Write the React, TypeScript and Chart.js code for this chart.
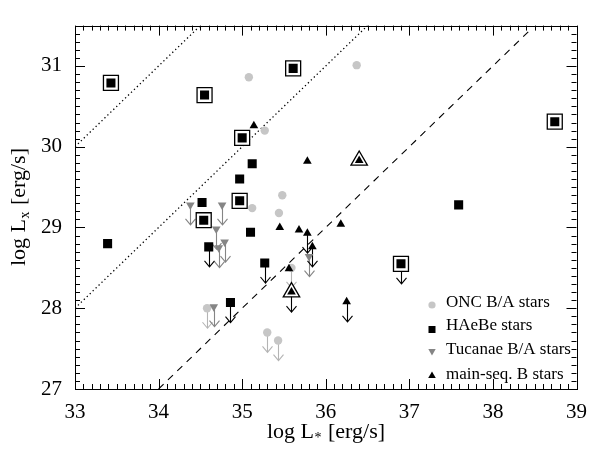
import React, { useEffect, useRef } from 'react';
import { Chart, registerables } from 'chart.js';

Chart.register(...registerables);

// ---- axes ----
const xTicks = [33, 34, 35, 36, 37, 38, 39];
const yTicks = [27, 28, 29, 30, 31];
const xMin = 33, xMax = 39;
const yMin = 27, yMax = 31.5;

// ---- ONC B/A stars ----
const oncX = [35.08, 35.27, 36.37, 35.12, 35.48, 35.44, 35.59, 34.58, 35.30, 35.43];
const oncY = [30.86, 30.20, 31.01, 29.24, 29.40, 29.18, 28.50, 28.00, 27.70, 27.60];
const oncLimit = [0, 0, 0, 0, 0, 0, 1, 1, 1, 1];

// ---- HAeBe stars ----
const haeX = [33.43, 34.55, 35.61, 35.00, 34.97, 34.54, 38.74, 36.90, 35.12, 34.97, 34.52, 35.10, 33.39, 34.60, 35.27, 34.86, 37.59];
const haeY = [30.79, 30.64, 30.97, 30.11, 29.33, 29.09, 30.31, 28.55, 29.79, 29.60, 29.31, 28.94, 28.80, 28.76, 28.56, 28.07, 29.28];
const haeBoxed = [1, 1, 1, 1, 1, 1, 1, 1, 0, 0, 0, 0, 0, 0, 0, 0, 0];
const haeLimit = [0, 0, 0, 0, 0, 0, 0, 1, 0, 0, 0, 0, 0, 1, 1, 1, 0];

// ---- Tucanae B/A stars ----
const tucX = [34.38, 34.76, 34.69, 34.79, 34.72, 34.66, 35.80];
const tucY = [29.28, 29.28, 28.98, 28.82, 28.75, 28.02, 28.64];
const tucLimit = [1, 1, 1, 1, 1, 1, 1];

// ---- main-seq. B stars ----
const msX = [35.14, 35.45, 35.78, 36.40, 35.68, 35.78, 36.18, 35.84, 35.56, 35.59, 36.25];
const msY = [30.26, 29.00, 29.82, 29.83, 28.97, 28.93, 29.04, 28.76, 28.49, 28.20, 28.08];
const msBoxed = [0, 0, 0, 1, 0, 0, 0, 0, 0, 1, 0];
const msLimit = [0, 0, 0, 0, 0, 1, 0, 1, 0, 1, 1];

// ---- reference lines log Lx = log L* + c ----
const line1X = [33, 34.5];
const line1Y = [30, 31.5];
const line2X = [33, 36.5];
const line2Y = [28, 31.5];
const line3X = [34, 38.45];
const line3Y = [27, 31.45];

const legendLabels = ['ONC B/A stars', 'HAeBe stars', 'Tucanae B/A stars', 'main-seq. B stars'];

const FONT = '"Liberation Serif", "Times New Roman", serif';
const ONC_COL = '#c6c6c6';
const TUC_COL = '#858585';

const pts = (xs: number[], ys: number[], mask?: number[]) =>
  xs.map((x, i) => ({ x, y: ys[i] })).filter((_, i) => !mask || mask[i]);

export default function App() {
  const ref = useRef<HTMLCanvasElement>(null);

  useEffect(() => {
    if (!ref.current) return;

    const overlay = {
      id: 'overlay',
      beforeDatasetsDraw(chart: any) {
        const ctx = chart.ctx;
        const xs = chart.scales.x;
        const ys = chart.scales.y;
        const arrow = (x: number, y: number, color: string) => {
          const px = Math.round(xs.getPixelForValue(x)) + 0.5;
          const py = ys.getPixelForValue(y);
          const tip = py + 20;
          ctx.save();
          ctx.strokeStyle = color;
          ctx.lineWidth = 1.1;
          ctx.beginPath();
          ctx.moveTo(px, py);
          ctx.lineTo(px, tip);
          ctx.moveTo(px - 5, tip - 6);
          ctx.lineTo(px, tip);
          ctx.lineTo(px + 5, tip - 6);
          ctx.stroke();
          ctx.restore();
        };
        oncX.forEach((x, i) => oncLimit[i] && arrow(x, oncY[i], '#b4b4b4'));
        tucX.forEach((x, i) => tucLimit[i] && arrow(x, tucY[i], TUC_COL));
        haeX.forEach((x, i) => haeLimit[i] && arrow(x, haeY[i], '#000'));
        msX.forEach((x, i) => msLimit[i] && arrow(x, msY[i], '#000'));
      },
      afterDraw(chart: any) {
        const ctx = chart.ctx;
        const { left, right, top, bottom } = chart.chartArea;
        const xs = chart.scales.x;
        const ys = chart.scales.y;
        ctx.save();
        ctx.strokeStyle = '#000';
        ctx.lineWidth = 1;
        ctx.strokeRect(Math.round(left) + 0.5, Math.round(top) + 0.5, Math.round(right - left), Math.round(bottom - top));
        ctx.beginPath();
        for (let i = 0; i <= 60; i++) {
          const v = xMin + i * 0.1;
          const p = Math.round(xs.getPixelForValue(v)) + 0.5;
          const len = i % 10 === 0 ? 10 : 5;
          ctx.moveTo(p, bottom);
          ctx.lineTo(p, bottom - len);
          ctx.moveTo(p, top);
          ctx.lineTo(p, top + len);
        }
        for (let i = 0; i <= 45; i++) {
          const v = yMin + i * 0.1;
          const p = Math.round(ys.getPixelForValue(v)) + 0.5;
          const len = i % 10 === 0 ? 10 : 5;
          ctx.moveTo(left, p);
          ctx.lineTo(left + len, p);
          ctx.moveTo(right, p);
          ctx.lineTo(right - len, p);
        }
        ctx.stroke();

        // legend
        const lx = 432;
        const tx = 446;
        const rows = [303, 326, 350, 375];
        ctx.fillStyle = ONC_COL;
        ctx.beginPath();
        ctx.arc(lx, rows[0] + 2, 3.6, 0, Math.PI * 2);
        ctx.fill();
        ctx.fillStyle = '#000';
        ctx.fillRect(lx - 3.5, rows[1] + 0, 7, 7);
        ctx.fillStyle = TUC_COL;
        ctx.beginPath();
        ctx.moveTo(lx - 3.7, rows[2] - 1);
        ctx.lineTo(lx + 3.7, rows[2] - 1);
        ctx.lineTo(lx, rows[2] + 5.5);
        ctx.closePath();
        ctx.fill();
        ctx.fillStyle = '#000';
        ctx.beginPath();
        ctx.moveTo(lx, rows[3] - 3.5);
        ctx.lineTo(lx + 3.8, rows[3] + 3);
        ctx.lineTo(lx - 3.8, rows[3] + 3);
        ctx.closePath();
        ctx.fill();
        ctx.fillStyle = '#000';
        ctx.font = `17px ${FONT}`;
        ctx.textBaseline = 'middle';
        ctx.textAlign = 'left';
        legendLabels.forEach((t, i) => ctx.fillText(t, tx, rows[i]));

        // axis titles
        const drawTitle = (sub: string, cx: number, baseline: number) => {
          const main = `22px ${FONT}`;
          const small = `14px ${FONT}`;
          ctx.font = main;
          const a = 'log L';
          const b = ' [erg/s]';
          const wa = ctx.measureText(a).width;
          const wb = ctx.measureText(b).width;
          ctx.font = small;
          const ws = ctx.measureText(sub).width + 1;
          const total = wa + ws + wb;
          let x = cx - total / 2;
          ctx.textAlign = 'left';
          ctx.textBaseline = 'alphabetic';
          ctx.font = main;
          ctx.fillText(a, x, baseline);
          x += wa + 0.5;
          ctx.font = small;
          ctx.fillText(sub, x, baseline + 4);
          x += ws;
          ctx.font = main;
          ctx.fillText(b, x, baseline);
        };
        drawTitle('*', (left + right) / 2, 438);
        ctx.save();
        ctx.translate(25, (top + bottom) / 2);
        ctx.rotate(-Math.PI / 2);
        drawTitle('x', 0, 0);
        ctx.restore();
        ctx.restore();
      },
    };

    const lineDs = (xs: number[], ys: number[], dash: number[], w: number) => ({
      type: 'line' as const,
      data: pts(xs, ys),
      showLine: true,
      borderColor: '#000',
      borderWidth: w,
      borderDash: dash,
      pointRadius: 0,
      fill: false,
      order: 10,
    });

    const chart = new Chart(ref.current, {
      type: 'scatter',
      data: {
        datasets: [
          lineDs(line1X, line1Y, [1.3, 2.8], 1.3),
          lineDs(line2X, line2Y, [1.3, 2.8], 1.3),
          lineDs(line3X, line3Y, [7, 6], 1.1),
          {
            label: 'HAeBe boxes',
            data: pts(haeX, haeY, haeBoxed),
            pointStyle: 'rect',
            pointRadius: 10.6,
            backgroundColor: '#fff',
            borderColor: '#000',
            borderWidth: 1.3,
            order: 4,
          },
          {
            label: 'main-seq boxes',
            data: pts(msX, msY, msBoxed),
            pointStyle: 'triangle',
            pointRadius: 9.5,
            backgroundColor: '#fff',
            borderColor: '#000',
            borderWidth: 1.3,
            order: 4,
          },
          {
            label: legendLabels[0],
            data: pts(oncX, oncY),
            pointStyle: 'circle',
            pointRadius: 4.2,
            backgroundColor: ONC_COL,
            borderWidth: 0,
            order: 5,
          },
          {
            label: legendLabels[2],
            data: pts(tucX, tucY),
            pointStyle: 'triangle',
            rotation: 180,
            pointRadius: 5,
            backgroundColor: TUC_COL,
            borderWidth: 0,
            order: 3,
          },
          {
            label: legendLabels[1],
            data: pts(haeX, haeY),
            pointStyle: 'rect',
            pointRadius: 6.4,
            backgroundColor: '#000',
            borderWidth: 0,
            order: 1,
          },
          {
            label: legendLabels[3],
            data: pts(msX, msY),
            pointStyle: 'triangle',
            pointRadius: 5,
            backgroundColor: '#000',
            borderWidth: 0,
            order: 1,
          },
        ],
      } as any,
      options: {
        responsive: false,
        animation: false,
        devicePixelRatio: 1,
        layout: { padding: { left: 0, top: 5, right: 12, bottom: 0 } },
        plugins: { legend: { display: false }, tooltip: { enabled: false } },
        elements: { point: { hoverRadius: 0 } },
        scales: {
          x: {
            type: 'linear',
            min: xMin,
            max: xMax,
            afterBuildTicks: (s: any) => {
              s.ticks = xTicks.map((v) => ({ value: v }));
            },
            afterFit: (s: any) => {
              s.height = 65;
            },
            grid: { display: false, drawTicks: false },
            border: { display: false },
            ticks: {
              font: { family: FONT, size: 21 },
              color: '#000',
              padding: 11,
              maxRotation: 0,
              autoSkip: false,
            },
          },
          y: {
            type: 'linear',
            min: yMin,
            max: yMax,
            afterBuildTicks: (s: any) => {
              s.ticks = yTicks.map((v) => ({ value: v }));
            },
            afterFit: (s: any) => {
              s.width = 75;
            },
            grid: { display: false, drawTicks: false },
            border: { display: false },
            ticks: {
              font: { family: FONT, size: 21 },
              color: '#000',
              padding: 13,
              autoSkip: false,
            },
          },
        },
      } as any,
      plugins: [overlay],
    });
    return () => chart.destroy();
  }, []);

  return (
    <div style={{ position: 'fixed', left: 0, top: 0, width: 598, height: 454, background: '#fff' }}>
      <canvas ref={ref} width={598} height={454} style={{ display: 'block', width: 598, height: 454 }} />
    </div>
  );
}
